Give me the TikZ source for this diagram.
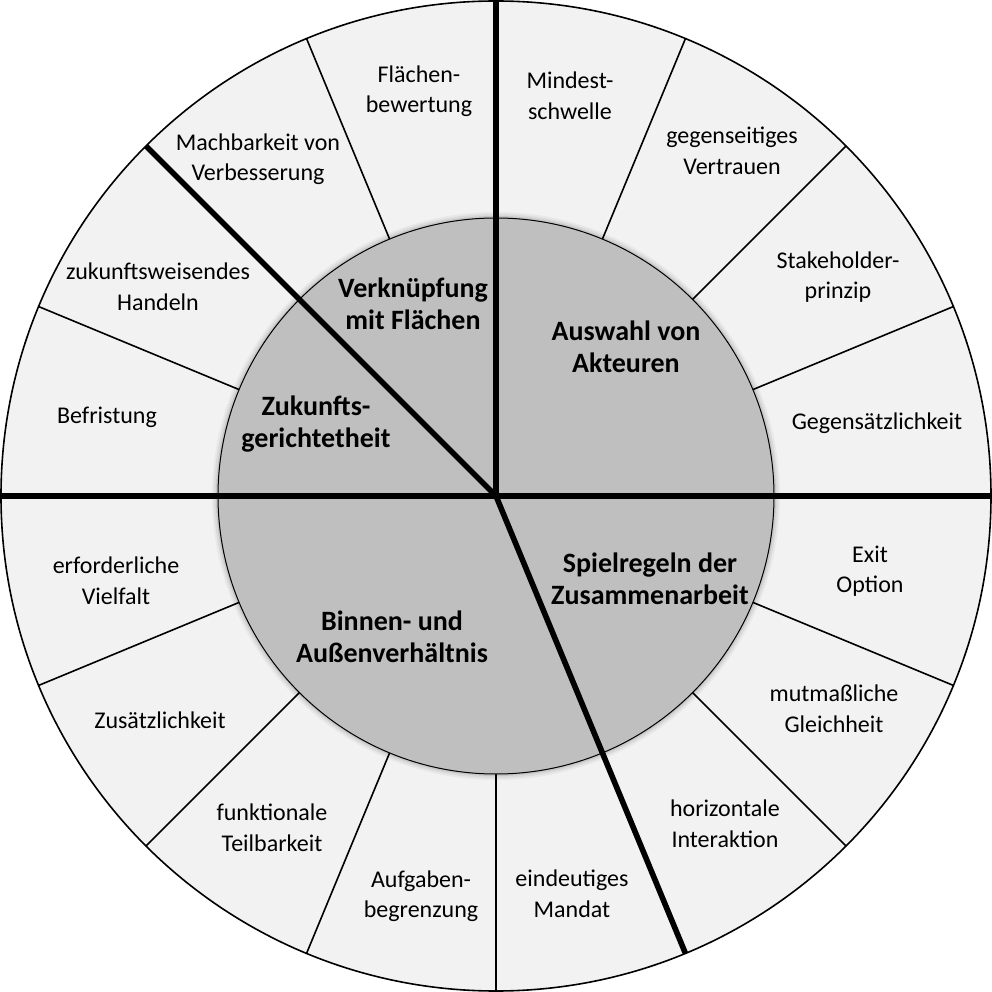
\documentclass[tikz,border=0pt]{standalone}
\usepackage{fontspec}
\setmainfont{Carlito}
\begin{document}
\begin{tikzpicture}[x=1pt,y=1pt,
  ringlbl/.style={align=center,font=\fontsize{24}{30.5}\selectfont,inner sep=0pt},
  corelbl/.style={align=center,font=\fontsize{28}{32}\selectfont\bfseries,inner sep=0pt},
  thinline/.style={line width=1.6pt,black},
  thickline/.style={line width=5.6pt,black}]
\useasboundingbox (-496,-496) rectangle (496,496);
\coordinate (c) at (0,0);
% outer ring
\fill[black!5] (c) circle (495);
% thin dividers
\foreach \a in {22.5,45,67.5,112.5,157.5,202.5,225,247.5,270,315,337.5}
  \draw[thinline] (\a:278) -- (\a:495);
% soft shadow round the inner disc
\foreach \r/\o in {284/0.04,282/0.06,280/0.09}
  \fill[black,opacity=\o] (c) circle (\r);
% inner disc
\filldraw[fill=black!25,draw=black,line width=1pt] (c) circle (278);
\draw[line width=1.6pt] (c) circle (495);
% thick dividers
\coordinate (ptop) at (90:496);
\coordinate (pul) at (135:495);
\coordinate (pleft) at (-496,0);
\coordinate (pright) at (496,0);
\coordinate (pbr) at (-67.5:495);
\draw[thickline] (c) -- (ptop);
\draw[thickline] (c) -- (pul);
\draw[thickline] (pleft) -- (pright);
\draw[thickline] (c) -- (pbr);
% ring labels
\node[ringlbl] (l1) at (-77,405) {Flächen-\\bewertung};
\node[ringlbl] (l2) at (-238,337) {Machbarkeit von\\Verbesserung};
\node[ringlbl] (l3) at (-338,209) {zukunftsweisendes\\Handeln};
\node[ringlbl] (l4) at (-389,79) {Befristung};
\node[ringlbl] (l5) at (-380,-85) {erforderliche\\Vielfalt};
\node[ringlbl] (l6) at (-336,-224) {Zusätzlichkeit};
\node[ringlbl] (l7) at (-224,-332) {funktionale\\Teilbarkeit};
\node[ringlbl] (l8) at (-75,-400) {Aufgaben-\\begrenzung};
\node[ringlbl] (l9) at (76,-398) {eindeutiges\\Mandat};
\node[ringlbl] (l10) at (229,-328) {horizontale\\Interaktion};
\node[ringlbl] (l11) at (338,-213) {mutmaßliche\\Gleichheit};
\node[ringlbl] (l12) at (374,-75) {Exit\\Option};
\node[ringlbl] (l13) at (381,73) {Gegensätzlichkeit};
\node[ringlbl] (l14) at (342,219) {Stakeholder-\\prinzip};
\node[ringlbl] (l15) at (236,345) {gegenseitiges\\Vertrauen};
\node[ringlbl] (l16) at (74,400) {Mindest-\\schwelle};
% core labels
\node[corelbl] (k1) at (-83,192) {Verknüpfung\\mit Flächen};
\node[corelbl] (k2) at (130,149) {Auswahl von\\Akteuren};
\node[corelbl] (k3) at (-180,72) {Zukunfts-\\gerichtetheit};
\node[corelbl] (k4) at (154,-83) {Spielregeln der\\Zusammenarbeit};
\node[corelbl] (k5) at (-104,-141) {Binnen- und\\Außenverhältnis};
\end{tikzpicture}
\end{document}
